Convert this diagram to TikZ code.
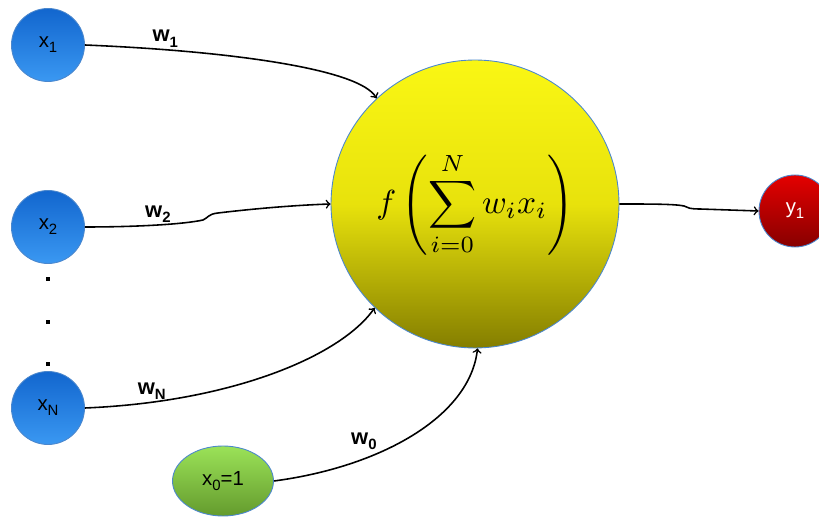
\documentclass[tikz,border=0pt]{standalone}
\usepackage{fontspec}
\setsansfont{Liberation Sans}
\usetikzlibrary{shapes.geometric}

\definecolor{inputtop}{RGB}{18,102,206}
\definecolor{inputbot}{RGB}{58,152,242}
\definecolor{sumtop}{RGB}{250,247,20}
\definecolor{summid}{RGB}{232,226,12}
\definecolor{sumbot}{RGB}{132,126,0}
\definecolor{outtop}{RGB}{228,0,0}
\definecolor{outbot}{RGB}{135,0,0}
\definecolor{biastop}{RGB}{155,226,88}
\definecolor{biasbot}{RGB}{100,155,45}
\definecolor{rim}{RGB}{75,135,205}

\newcommand{\lowsub}[1]{\raisebox{-0.45ex}{\fontsize{8.5}{9}\selectfont #1}}

\tikzset{
  neuron/.style={circle, draw=rim, line width=0.5pt, inner sep=0pt,
    font=\sffamily\fontsize{11.6}{12}\selectfont},
  input/.style={neuron, top color=inputtop, bottom color=inputbot, minimum size=1.46cm},
  output/.style={neuron, top color=outtop, bottom color=outbot, minimum size=1.44cm, text=white},
  bias/.style={ellipse, draw=rim, line width=0.5pt, inner sep=0pt,
    top color=biastop, bottom color=biasbot, minimum width=2.02cm, minimum height=1.4cm,
    font=\sffamily\fontsize{11.6}{12}\selectfont},
  % middle color last, bottom color would reset it
  summer/.style={circle, draw=rim, line width=0.5pt, inner sep=0pt,
    top color=sumtop, bottom color=sumbot, middle color=summid, minimum size=5.76cm},
  wire/.style={->, line width=0.9pt},
  weight/.style={font=\sffamily\bfseries\fontsize{12.5}{13}\selectfont, inner sep=1pt}
}

\begin{document}
\begin{tikzpicture}[x=0.02cm, y=0.02cm]
\useasboundingbox (0,0) rectangle (819,517);

% neurons
\node[input] (x1) at (48,472) {x\lowsub{1}};
\node[input] (x2) at (48,290) {x\lowsub{2}};
\node[input] (xN) at (48,109) {x\lowsub{N}};
\node[bias] (x0) at (223,36) {x\lowsub{0}=1};
\node[summer] (sum) at (475,313)
  {\scalebox{1.9}{$\displaystyle f\left(\sum_{i=0}^{N} w_i x_i\right)$}};
\node[output] (y1) at (795,306) {y\lowsub{1}};

% dots between x2 and xN
\foreach \y in {238,195,153}
  \fill (46,\y-2) rectangle (50,\y+2);

% weighted inputs
\draw[wire] (x1.east) .. controls (230,466) and (360,448) .. (sum.133)
  node[pos=0.19,above,weight] {w\lowsub{1}};
\draw[wire] (x2.east) .. controls (140,290) and (185,293) .. (203,297)
  node[pos=0.5,above,weight] {w\lowsub{2}}
  .. controls (208,299) and (208,303) .. (218,304)
  .. controls (260,309) and (300,312) .. (sum.west);
\draw[wire] (xN.east) .. controls (230,115) and (340,160) .. (sum.226)
  node[pos=0.16,above,weight] {w\lowsub{N}};
\draw[wire] (x0.east) .. controls (380,50) and (470,100) .. (sum.271)
  node[pos=0.36,above left,weight] {w\lowsub{0}};

% output
\draw[wire] (sum.east) .. controls (650,313) and (675,313) .. (684,311)
  .. controls (688,309) and (690,308) .. (700,308) -- (y1.west);

\end{tikzpicture}
\end{document}
